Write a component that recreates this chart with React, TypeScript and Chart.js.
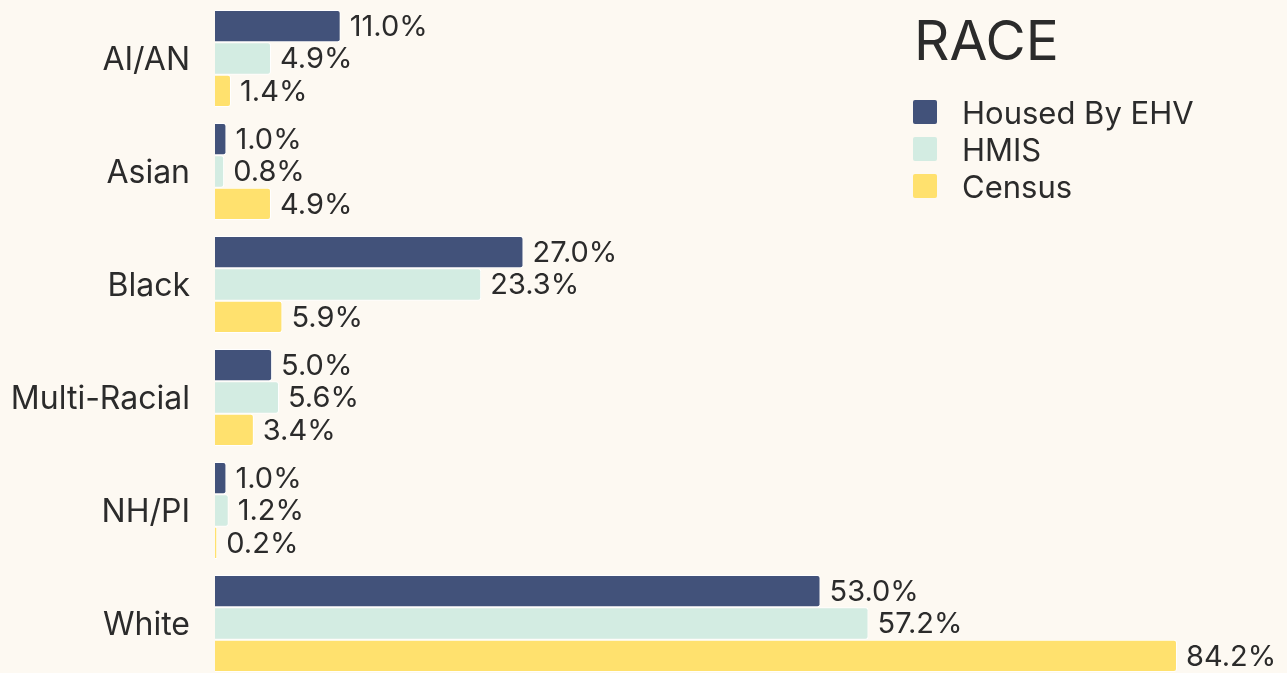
import React, { useEffect, useRef } from "react";
import { Chart, registerables } from "chart.js";

Chart.register(...registerables);

const categories = ["AI/AN", "Asian", "Black", "Multi-Racial", "NH/PI", "White"];
const seriesNames = ["Housed By EHV", "HMIS", "Census"];
const housedByEHV = [11.0, 1.0, 27.0, 5.0, 1.0, 53.0];
const hmis = [4.9, 0.8, 23.3, 5.6, 1.2, 57.2];
const census = [1.4, 4.9, 5.9, 3.4, 0.2, 84.2];
const seriesColors = ["#42527a", "#d3ece2", "#ffe16e"];
const legendTitle = "RACE";

const FONT = "Inter, 'Noto Sans', sans-serif";
const TEXT = "#2b2b2b";
const BG = "#fdf9f2";

const valueLabels = {
  id: "valueLabels",
  afterDatasetsDraw(chart: any) {
    const ctx = chart.ctx;
    ctx.save();
    ctx.font = `29px ${FONT}`;
    ctx.fillStyle = TEXT;
    ctx.textAlign = "left";
    ctx.textBaseline = "middle";
    chart.data.datasets.forEach((ds: any, di: number) => {
      const meta = chart.getDatasetMeta(di);
      meta.data.forEach((bar: any, i: number) => {
        const v = ds.data[i];
        ctx.fillText(`${v.toFixed(1)}%`, bar.x + 9, bar.y + 1);
      });
    });
    ctx.restore();
  },
};

export default function App() {
  const ref = useRef<HTMLCanvasElement | null>(null);

  useEffect(() => {
    document.body.style.margin = "0";
    document.body.style.background = BG;
    const chart = new Chart(ref.current!, {
      type: "bar",
      data: {
        labels: categories,
        datasets: [housedByEHV, hmis, census].map((d, i) => ({
          label: seriesNames[i],
          data: d,
          backgroundColor: seriesColors[i],
          borderColor: "#ffffff",
          borderWidth: 1,
          borderSkipped: "start",
          borderRadius: 3,
          barPercentage: 1,
          categoryPercentage: 0.86,
        })),
      },
      options: {
        indexAxis: "y",
        animation: false,
        responsive: false,
        maintainAspectRatio: false,
        layout: { padding: { top: 2, right: 0, bottom: 0, left: 0 } },
        plugins: {
          legend: { display: false },
          tooltip: { enabled: false },
          title: { display: false },
        },
        scales: {
          x: {
            display: false,
            min: 0,
            max: 93.83,
          },
          y: {
            grid: { display: false, drawTicks: false },
            border: { display: false },
            ticks: {
              padding: 25,
              labelOffset: 2,
              color: TEXT,
              font: { family: FONT, size: 32 },
            },
            afterFit: (scale: any) => {
              scale.width = 215;
              scale.paddingTop = 0;
              scale.paddingBottom = 0;
            },
          },
        },
      },
      plugins: [valueLabels],
    });
    return () => chart.destroy();
  }, []);

  return (
    <div
      style={{
        position: "relative",
        width: 1287,
        height: 673,
        overflow: "hidden",
        background: BG,
        fontFamily: FONT,
        color: TEXT,
      }}
    >
      <canvas ref={ref} width={1287} height={680} style={{ display: "block" }} />
      <div
        style={{
          position: "absolute",
          left: 914,
          top: 0,
          fontSize: 55,
          lineHeight: "80px",
        }}
      >
        {legendTitle}
      </div>
      <div style={{ position: "absolute", left: 913, top: 93.5 }}>
        {seriesNames.map((name, i) => (
          <div
            key={name}
            style={{ display: "flex", alignItems: "center", height: 37 }}
          >
            <span
              style={{
                width: 24,
                height: 24,
                background: seriesColors[i],
                borderRadius: 2,
                marginRight: 25,
                display: "inline-block",
              }}
            />
            <span style={{ fontSize: 31, lineHeight: "37px" }}>{name}</span>
          </div>
        ))}
      </div>
    </div>
  );
}
